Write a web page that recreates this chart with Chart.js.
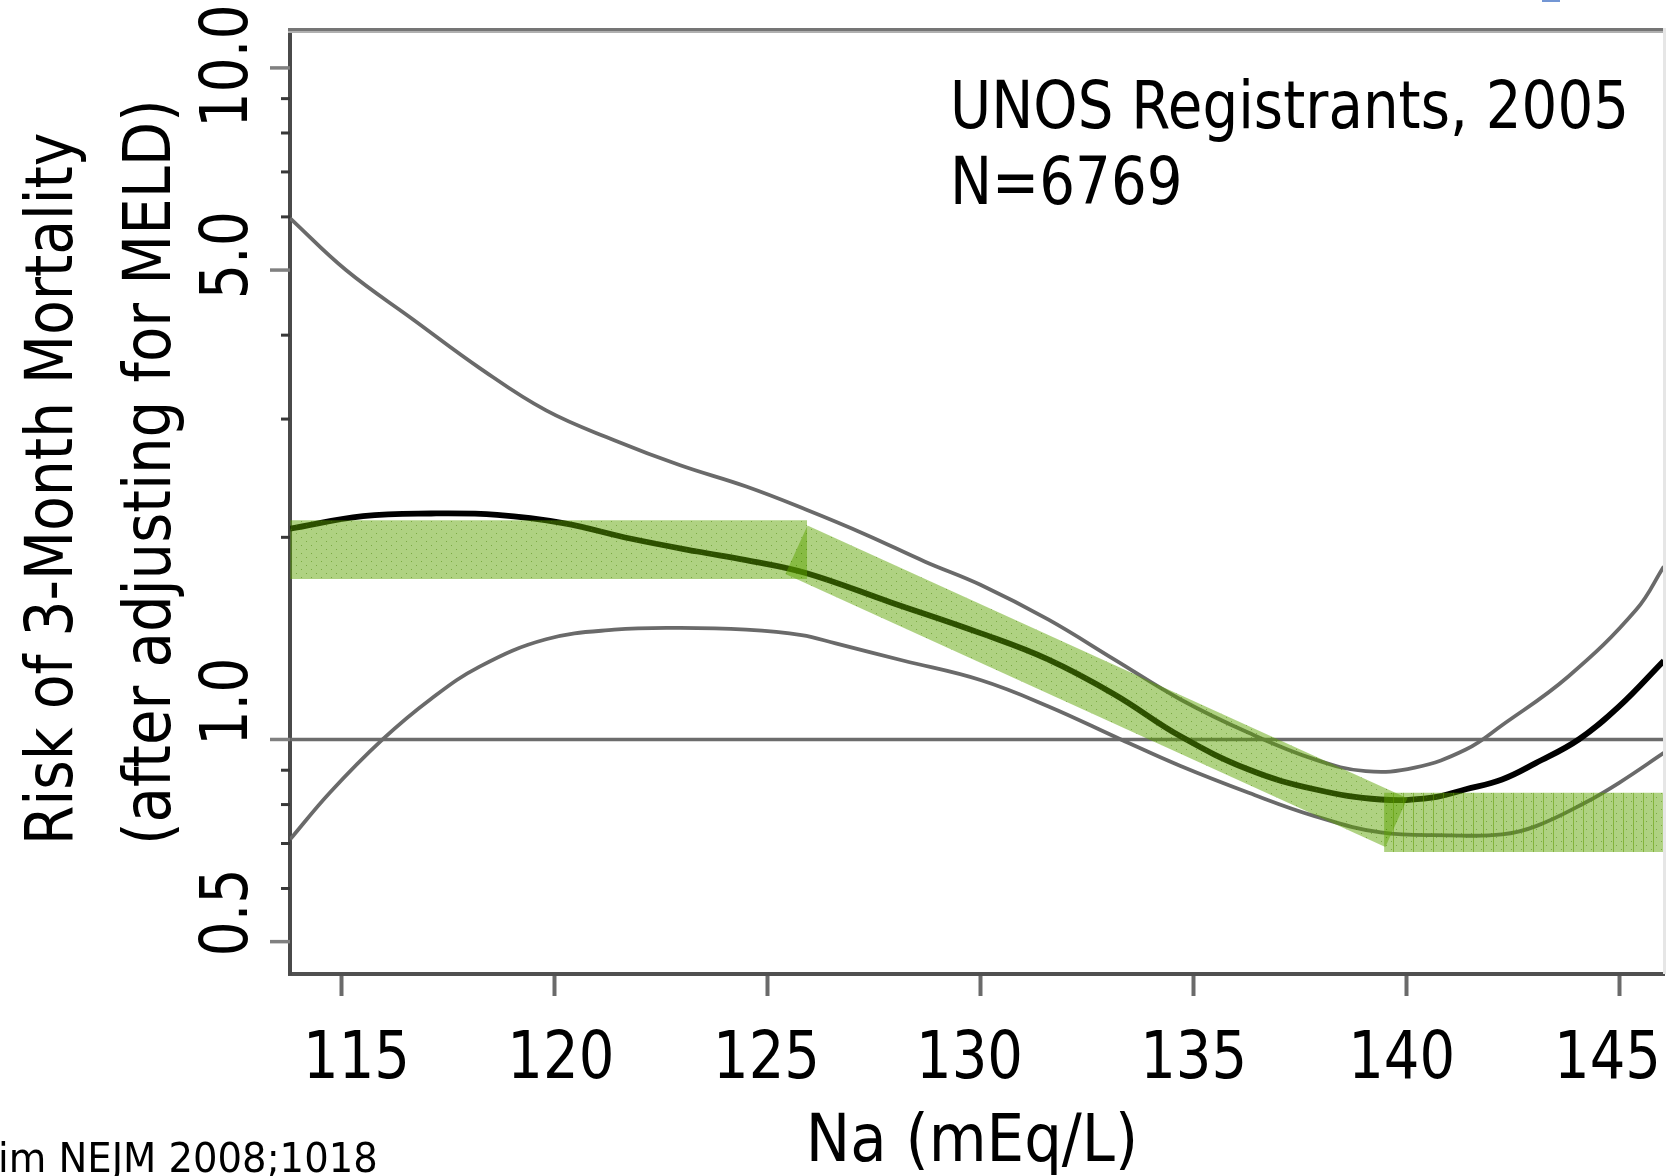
<!DOCTYPE html>
<html><head><meta charset="utf-8">
<script src="https://cdn.jsdelivr.net/npm/chart.js@4.4.1/dist/chart.umd.min.js"></script>
<style>html,body{margin:0;padding:0;background:#fff;overflow:hidden}canvas{display:block}</style>
</head><body>
<canvas id="c" width="1666" height="1176"></canvas>
<script>
// ---------- data ----------
const estX = [113.79, 115.5, 117.1, 118.65, 120.2, 121.8, 123.35, 124.5, 125.9, 127.9, 130.0, 131.6, 133.15, 134.7, 136.3, 137.85, 139.4, 140.6, 141.4, 142.25, 143.05, 144.05, 145.0, 146.05];
const estY = [2.06, 2.15, 2.17, 2.16, 2.10, 1.99, 1.905, 1.85, 1.77, 1.60, 1.44, 1.315, 1.167, 1.011, 0.902, 0.843, 0.814, 0.819, 0.843, 0.872, 0.923, 1.0, 1.12, 1.31];

const upX = [113.79, 115.1, 116.7, 118.25, 119.8, 121.4, 122.95, 124.5, 125.9, 127.3, 128.7, 130.0, 131.6, 133.15, 134.7, 136.3, 137.85, 139.05, 140.2, 141.4, 142.25, 143.8, 145.4, 146.05];
const upY = [5.97, 5.0, 4.21, 3.57, 3.09, 2.79, 2.56, 2.38, 2.2, 2.02, 1.84, 1.70, 1.508, 1.315, 1.147, 1.023, 0.934, 0.897, 0.908, 0.966, 1.05, 1.24, 1.56, 1.81];

const loX = [113.79, 114.72, 115.96, 117.08, 118.25, 119.8, 121.4, 122.95, 124.5, 125.8, 126.6, 128.2, 130.0, 131.6, 133.3, 134.7, 136.3, 137.85, 139.4, 141.0, 142.25, 143.05, 144.2, 145.0, 146.05];
const loY = [0.71, 0.833, 1.0, 1.147, 1.285, 1.41, 1.457, 1.466, 1.457, 1.43, 1.39, 1.31, 1.226, 1.12, 1.0, 0.913, 0.833, 0.769, 0.727, 0.72, 0.722, 0.743, 0.805, 0.862, 0.955];

const refX = [113.79, 146.05];
const refY = [1, 1];

const bandLeftX = [113.79, 125.93];
const bandLeftHi = [2.12, 2.12];
const bandLeftLo = [1.734, 1.734];
const bandSlopeX = [125.68, 139.77];
const bandSlopeMid = [1.917, 0.752];
const bandRightX = [139.48, 146.05];
const bandRightHi = [0.833, 0.833];
const bandRightLo = [0.680, 0.680];

const xMin = 113.786, xMax = 146.054;
const yMin = 0.4475, yMax = 11.31;
const xTicks = [115, 120, 125, 130, 135, 140, 145];
const xTickLabels = ['115', '120', '125', '130', '135', '140', '145'];
const yTicks = [0.5, 0.6, 0.7, 0.8, 0.9, 1, 2, 3, 4, 5, 6, 7, 8, 9, 10];
const yMajorTicks = [0.5, 1, 5, 10];
const yTickLabels = ['0.5', '1.0', '5.0', '10.0'];

const titleLines = ['UNOS Registrants, 2005', 'N=6769'];
const yTitleLines = ['Risk of 3-Month Mortality', '(after adjusting for MELD)'];
const xTitle = 'Na (mEq/L)';
const sourceNote = 'im NEJM 2008;1018';

// ---------- styles ----------
const BAND = 'rgba(92,163,0,0.49)';
const CI = '#6a6a6a';
const FONT = '"DejaVu Sans", Verdana, sans-serif';
const xLabelNudge = [14.8, 6.2, -1.0, -10.9, 0.4, -4.5, -11.6];
const yLabelNudge = [-29.2, -37.8, -15, -1.9];

function bandPattern(stripes) {
  const c = document.createElement('canvas');
  c.width = 10; c.height = 8;
  const g = c.getContext('2d');
  g.fillStyle = BAND; g.fillRect(0, 0, 10, 8);
  g.fillStyle = 'rgba(70,130,0,0.5)';
  g.fillRect(1, 1, 1, 1); g.fillRect(6, 5, 1, 1);
  if (stripes) { g.fillStyle = 'rgba(95,155,0,0.55)'; g.fillRect(3, 0, 1, 8); }
  return g.createPattern(c, 'repeat');
}
const BAND_DOTS = bandPattern(false);
const BAND_STRIPES = bandPattern(true);

const pts = (xs, ys) => xs.map((x, i) => ({x, y: ys[i]}));
const curve = (xs, ys, color, w, order) => ({
  data: pts(xs, ys), borderColor: color, borderWidth: w, pointRadius: 0,
  fill: false, tension: 0.4, order
});

function drawText(ctx, str, x, y, size, sx, align, rot) {
  ctx.save();
  ctx.translate(x, y);
  if (rot) ctx.rotate(rot);
  ctx.scale(sx, 1);
  ctx.font = size + 'px ' + FONT;
  ctx.fillStyle = '#000';
  ctx.textAlign = align;
  ctx.textBaseline = 'alphabetic';
  ctx.fillText(str, 0, 0);
  ctx.restore();
}

const decor = {
  id: 'decor',
  afterDraw(chart) {
    const ctx = chart.ctx, a = chart.chartArea;
    const xs = chart.scales.x, ys = chart.scales.y;
    ctx.save();
    // frame top / right
    ctx.fillStyle = '#757575'; ctx.fillRect(a.left - 2, a.top - 4, a.right - a.left + 2, 3);
    ctx.fillStyle = '#b0b0b0'; ctx.fillRect(a.left - 2, a.top - 1, a.right - a.left + 2, 2);
    ctx.fillStyle = '#e6e6e6'; ctx.fillRect(a.right - 1, a.top - 4, 3, a.bottom - a.top + 4);
    // y ticks
    yTicks.forEach(v => {
      const py = ys.getPixelForValue(v);
      const major = yMajorTicks.includes(v);
      ctx.strokeStyle = major ? '#808080' : '#383838';
      ctx.lineWidth = major ? 3.5 : 3;
      ctx.beginPath();
      ctx.moveTo(major ? a.left - 20 : a.left - 9, py);
      ctx.lineTo(a.left, py);
      ctx.stroke();
    });
    ctx.restore();
    // y tick labels (rotated)
    yMajorTicks.forEach((v, i) => {
      const py = ys.getPixelForValue(v) + yLabelNudge[i];
      drawText(ctx, yTickLabels[i], 247, py, 66, 0.84, 'center', -Math.PI / 2);
    });
    // x tick labels
    xTicks.forEach((v, i) => {
      const px = xs.getPixelForValue(v) + xLabelNudge[i];
      drawText(ctx, xTickLabels[i], px, 1078, 66, 0.85, 'center', 0);
    });
    // axis titles
    drawText(ctx, yTitleLines[0], 72, 845, 66, 0.86, 'left', -Math.PI / 2);
    drawText(ctx, yTitleLines[1], 170, 845, 66, 0.875, 'left', -Math.PI / 2);
    drawText(ctx, xTitle, 972, 1161, 66, 0.9, 'center', 0);
    // annotation
    drawText(ctx, titleLines[0], 950, 128, 66, 0.853, 'left', 0);
    drawText(ctx, titleLines[1], 950, 204, 66, 0.853, 'left', 0);
    // source
    drawText(ctx, sourceNote, -2, 1172, 41, 0.94, 'left', 0);
    // stray blue mark of the slide
    ctx.fillStyle = '#7396d4'; ctx.fillRect(1542, 0, 18, 2);
  }
};

new Chart(document.getElementById('c'), {
  type: 'line',
  data: {
    datasets: [
      // green MELD-Na bands (on top)
      {data: pts(bandLeftX, bandLeftHi), borderColor: 'transparent', borderWidth: 0, pointRadius: 0, fill: false, order: 0},
      {data: pts(bandLeftX, bandLeftLo), borderColor: 'transparent', borderWidth: 0, pointRadius: 0, fill: '-1', backgroundColor: BAND_DOTS, order: 0},
      {data: pts(bandRightX, bandRightHi), borderColor: 'transparent', borderWidth: 0, pointRadius: 0, fill: false, order: 0},
      {data: pts(bandRightX, bandRightLo), borderColor: 'transparent', borderWidth: 0, pointRadius: 0, fill: '-1', backgroundColor: BAND_STRIPES, order: 0},
      {data: pts(bandSlopeX, bandSlopeMid), borderColor: BAND_DOTS, borderWidth: 53.4, borderCapStyle: 'butt', pointRadius: 0, fill: false, order: 0},
      // curves
      curve(upX, upY, CI, 3.8, 1),
      curve(loX, loY, CI, 3.8, 1),
      curve(estX, estY, '#000', 5.8, 1),
      // reference line at 1.0
      {data: pts(refX, refY), borderColor: '#6c6c6c', borderWidth: 3.5, pointRadius: 0, fill: false, order: 2}
    ]
  },
  options: {
    responsive: false,
    animation: false,
    events: [],
    layout: {padding: {top: 32, right: 2, left: 0, bottom: 0}},
    plugins: {legend: {display: false}, tooltip: {enabled: false}},
    scales: {
      x: {
        type: 'linear', min: xMin, max: xMax,
        afterBuildTicks: s => { s.ticks = xTicks.map(v => ({value: v})); },
        afterFit: s => { s.height = 202; },
        ticks: {display: false},
        grid: {drawOnChartArea: false, drawTicks: true, tickLength: 22, tickColor: '#6a6a6a', tickWidth: 4},
        border: {display: true, color: '#505050', width: 4}
      },
      y: {
        type: 'logarithmic', min: yMin, max: yMax,
        afterBuildTicks: s => { s.ticks = yTicks.map(v => ({value: v})); },
        afterFit: s => { s.width = 290; },
        ticks: {display: false},
        grid: {display: false},
        border: {display: true, color: '#4a4a4a', width: 4}
      }
    }
  },
  plugins: [decor]
});
</script>
</body></html>
